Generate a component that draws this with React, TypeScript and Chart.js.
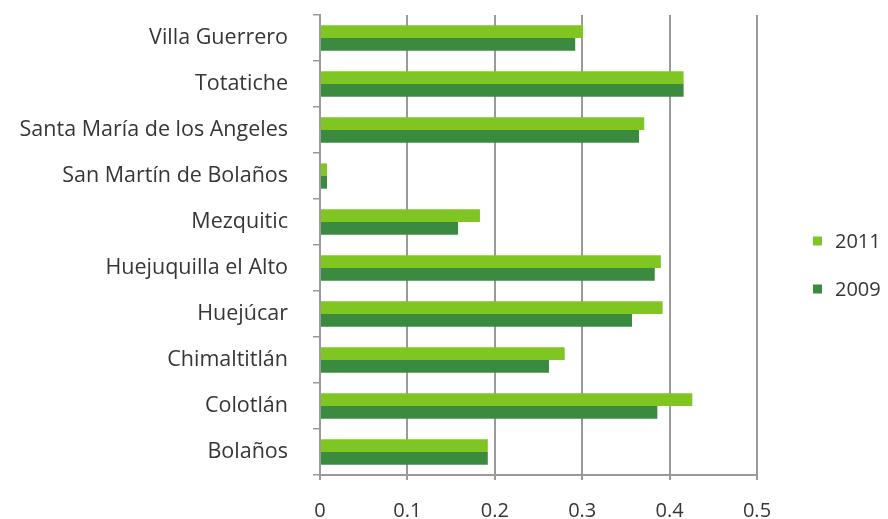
import { useEffect, useRef } from 'react';
import { Chart, registerables } from 'chart.js';

Chart.register(...registerables);

const categories = [
  'Villa Guerrero',
  'Totatiche',
  'Santa María de los Angeles',
  'San Martín de Bolaños',
  'Mezquitic',
  'Huejuquilla el Alto',
  'Huejúcar',
  'Chimaltitlán',
  'Colotlán',
  'Bolaños',
];
const seriesNames = ['2011', '2009'];
const values2011 = [0.301, 0.416, 0.371, 0.008, 0.183, 0.39, 0.392, 0.28, 0.426, 0.192];
const values2009 = [0.292, 0.416, 0.365, 0.008, 0.158, 0.383, 0.357, 0.262, 0.386, 0.192];
const xMin = 0;
const xMax = 0.5;
const xStep = 0.1;

const colors = ['#80c623', '#3a8b40'];
const textColor = '#363636';
const gridColor = '#9a9a9a';
const fontFamily = "'Open Sans', 'Noto Sans', sans-serif";

const sideLegend = {
  id: 'sideLegend',
  afterDraw(chart: any) {
    const ctx = chart.ctx;
    ctx.save();
    ctx.font = `20px ${fontFamily}`;
    ctx.textBaseline = 'middle';
    ctx.textAlign = 'left';
    chart.data.datasets.forEach((ds: any, i: number) => {
      const y = 241 + i * 48;
      ctx.fillStyle = ds.backgroundColor;
      ctx.fillRect(813, y - 4.5, 9, 9);
      ctx.fillStyle = textColor;
      ctx.fillText(ds.label, 835, y + 1);
    });
    ctx.restore();
  },
};

export default function App() {
  const ref = useRef<HTMLCanvasElement | null>(null);

  useEffect(() => {
    if (!ref.current) return;
    const chart = new Chart(ref.current, {
      type: 'bar',
      data: {
        labels: categories,
        datasets: [
          { label: seriesNames[0], data: values2011, backgroundColor: colors[0], borderWidth: 0 },
          { label: seriesNames[1], data: values2009, backgroundColor: colors[1], borderWidth: 0 },
        ],
      },
      plugins: [sideLegend],
      options: {
        indexAxis: 'y',
        responsive: false,
        animation: false,
        events: [],
        layout: { padding: { left: 0, right: 131, top: 15, bottom: 0 } },
        datasets: {
          bar: { categoryPercentage: 0.55, barPercentage: 1 },
        },
        plugins: {
          legend: { display: false },
          tooltip: { enabled: false },
          title: { display: false },
        },
        scales: {
          x: {
            min: xMin,
            max: xMax,
            ticks: {
              stepSize: xStep,
              color: textColor,
              font: { family: fontFamily, size: 20 },
              padding: 19,
              callback: (v: any) => String(Math.round(Number(v) * 10) / 10),
            },
            grid: {
              color: gridColor,
              lineWidth: 2,
              tickLength: 5,
              drawTicks: true,
            },
            border: { color: gridColor, width: 2 },
            afterFit: (s: any) => {
              s.height = 44;
            },
          },
          y: {
            ticks: {
              color: textColor,
              font: { family: fontFamily, size: 21.5 },
              padding: 25,
            },
            grid: {
              offset: true,
              drawOnChartArea: false,
              drawTicks: true,
              tickLength: 7,
              color: gridColor,
              lineWidth: 1.5,
            },
            border: { color: gridColor, width: 2 },
            afterFit: (s: any) => {
              s.width = 320;
              s.paddingTop = 0;
              s.paddingBottom = 0;
            },
          },
        },
      },
    });
    return () => chart.destroy();
  }, []);

  return (
    <div style={{ position: 'absolute', left: 0, top: 0, width: 888, height: 519, background: '#fff' }}>
      <canvas ref={ref} width={888} height={519} style={{ display: 'block' }} />
    </div>
  );
}
